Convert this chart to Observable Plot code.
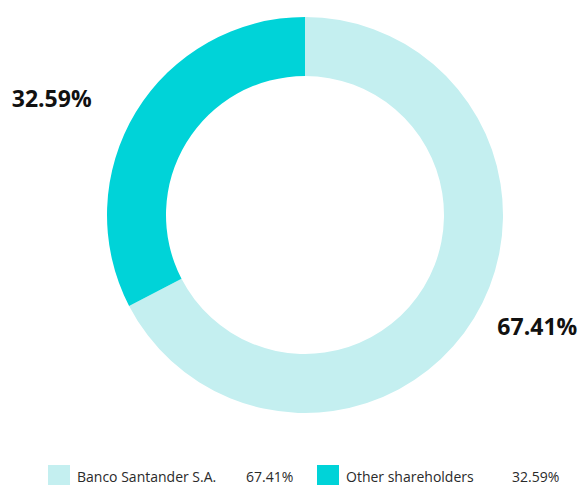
<!DOCTYPE html>
<html>
<head>
<meta charset="utf-8">
<script src="https://cdn.jsdelivr.net/npm/d3@7"></script>
<script src="https://cdn.jsdelivr.net/npm/@observablehq/plot@0.6"></script>
<style>
  body { margin: 0; background: #fff; font-family: "Open Sans", sans-serif; }
  #legend { display: flex; align-items: center; height: 22px; margin-top: 35px; font-size: 14px; color: #2a2a2a; }
  #legend .sw { width: 22px; height: 22px; margin-right: 7px; }
</style>
</head>
<body>
<div id="chart"></div>
<div id="legend"></div>
<script>
const categories = ["Banco Santander S.A.", "Other shareholders"];
const values = [67.41, 32.59];
const labels = ["67.41%", "32.59%"];
const colors = ["#c4eff0", "#00d3d8"];

const total = d3.sum(values);
let acc = 0;
const slices = categories.map((c, i) => {
  const start = acc / total * 2 * Math.PI;
  acc += values[i];
  const end = acc / total * 2 * Math.PI;
  const mid = (start + end) / 2;
  return { category: c, value: values[i], label: labels[i], color: colors[i], start, end, mid,
           lx: 1.17 * Math.sin(mid), ly: 1.17 * Math.cos(mid) };
});

const innerRatio = 139 / 198;

function arcs(index, scales) {
  const cx = scales.x(0), cy = scales.y(0);
  const R = scales.x(1) - scales.x(0);
  const arc = d3.arc().innerRadius(R * innerRatio).outerRadius(R);
  const g = d3.create("svg:g").attr("transform", `translate(${cx},${cy})`);
  g.selectAll("path").data(slices).join("path")
    .attr("d", d => arc({ startAngle: d.start, endAngle: d.end }))
    .attr("fill", d => d.color);
  return g.node();
}

const chart = Plot.plot({
  width: 578,
  height: 430,
  marginLeft: 107,
  marginRight: 75,
  marginTop: 17,
  marginBottom: 17,
  x: { domain: [-1, 1], axis: null },
  y: { domain: [-1, 1], axis: null },
  marks: [
    arcs,
    Plot.text(slices.filter(d => d.category === "Other shareholders"), {
      x: "lx", y: "ly", text: "label", textAnchor: "end", dx: -16, dy: 5,
      fontSize: 23, fontWeight: "bold", fill: "#111", fontFamily: "Open Sans"
    }),
    Plot.text(slices.filter(d => d.category === "Banco Santander S.A."), {
      x: "lx", y: "ly", text: "label", textAnchor: "start", dx: -6, dy: -8,
      fontSize: 23, fontWeight: "bold", fill: "#111", fontFamily: "Open Sans"
    })
  ]
});
document.getElementById("chart").appendChild(chart);

const legend = d3.select("#legend");
const widths = [[48, 169, 71], [317, 166, 66]];
slices.forEach((d, i) => {
  const item = legend.append("div").style("display", "flex").style("align-items", "center")
    .style("position", "absolute").style("left", widths[i][0] + "px");
  item.append("div").attr("class", "sw").style("background", d.color);
  item.append("span").text(d.category).style("display", "inline-block").style("width", widths[i][1] + "px");
  item.append("span").text(d.label);
});
</script>
</body>
</html>
